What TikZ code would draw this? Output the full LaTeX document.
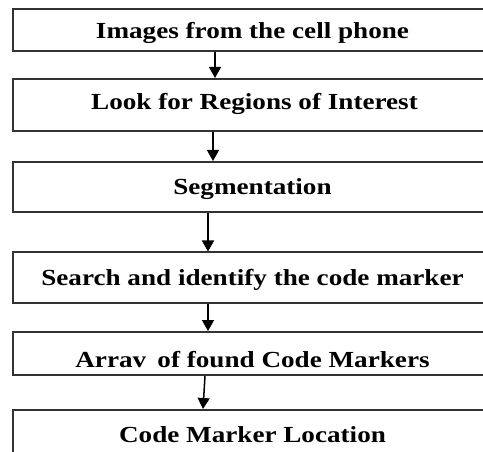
\documentclass[tikz,border=0pt]{standalone}
\usepackage{graphicx}
\usepackage{fontspec}
\setmainfont{Liberation Serif}
\usetikzlibrary{arrows.meta}
\newcommand\widetxt[1]{\scalebox{1.18}[1]{#1}}
\definecolor{linegray}{HTML}{333333}
\begin{document}
\begin{tikzpicture}[x=1pt,y=1pt,
  stepbox/.style={draw=linegray, line width=2pt, minimum width=507pt, inner sep=0pt},
  lbl/.style={anchor=base, inner sep=0pt, text=black, font=\fontsize{23}{27}\selectfont\bfseries},
  arr/.style={-{Triangle[width=12pt,length=11pt]}, line width=1.5pt, draw=black, fill=black}
]
\useasboundingbox (0,0) rectangle (483,-452);
\fill[white] (0,0) rectangle (483,-452);
\clip (0,0) rectangle (483,-452);
\node[stepbox, minimum height=42pt] (b1) at (266.5,-30) {};
\node[stepbox, minimum height=52pt] (b2) at (266.5,-105) {};
\node[stepbox, minimum height=50pt] (b3) at (266.5,-187) {};
\node[stepbox, minimum height=50pt] (b4) at (266.5,-277.5) {};
\node[stepbox, minimum height=43pt] (b5) at (266.5,-353.5) {};
\node[stepbox, minimum height=60pt] (b6) at (266.5,-440) {};
\node[lbl] (t1) at ([xshift=-14pt,yshift=-9pt]b1.center) {\widetxt{Images from the cell phone}};
\node[lbl] (t2) at ([xshift=-12pt,yshift=-5pt]b2.center) {\widetxt{Look for Regions of Interest}};
\node[lbl] (t3) at ([xshift=-14pt,yshift=-8pt]b3.center) {\widetxt{Segmentation}};
\node[lbl] (t4) at ([xshift=-14pt,yshift=-7.5pt]b4.center) {\widetxt{Search and identify the code marker}};
\node[lbl] (t5) at ([xshift=-14pt,yshift=-13.5pt]b5.center) {\widetxt{Arrav\, of found Code Markers}};
\node[lbl] (t6) at ([xshift=-14pt,yshift=-2pt]b6.center) {\widetxt{Code Marker Location}};
\draw[arr] ([xshift=-51.5pt]b1.south) -- ([xshift=-51.5pt]b2.north);
\draw[arr] ([xshift=-53.5pt]b2.south) -- ([xshift=-53.5pt]b3.north);
\draw[arr] ([xshift=-58.5pt]b3.south) -- ([xshift=-58.5pt]b4.north);
\draw[arr] ([xshift=-58.5pt]b4.south) -- ([xshift=-58.5pt]b5.north);
\draw[arr] ([xshift=-61.5pt]b5.south) -- ([xshift=-63.5pt]b6.north);
\end{tikzpicture}
\end{document}
